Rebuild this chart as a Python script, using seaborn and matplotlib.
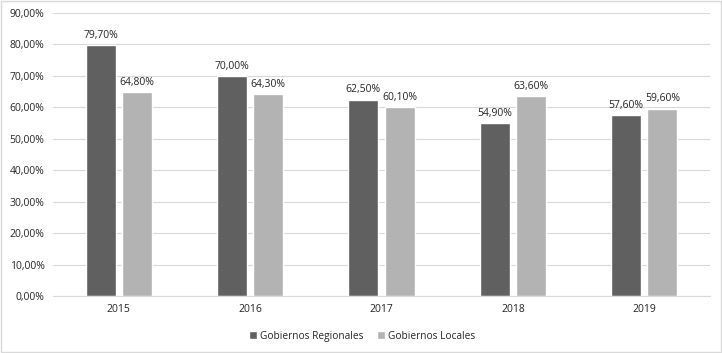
import pandas as pd
import matplotlib.pyplot as plt
import seaborn as sns
from matplotlib.patches import Rectangle

# data
years = ['2015', '2016', '2017', '2018', '2019']
regionales = [79.7, 70.0, 62.5, 54.9, 57.6]
locales = [64.8, 64.3, 60.1, 63.6, 59.6]

df = pd.DataFrame({
    'year': years * 2,
    'value': regionales + locales,
    'serie': ['Gobiernos Regionales'] * 5 + ['Gobiernos Locales'] * 5,
})

sns.set_style('white')
plt.rcParams['font.family'] = ['Open Sans', 'DejaVu Sans']

fig = plt.figure(figsize=(7.22, 3.53), dpi=100)
ax = fig.add_axes([0.0734, 0.1615, 0.91, 0.8015])

sns.barplot(data=df, x='year', y='value', hue='serie',
            palette=['#606060', '#b3b3b3'], width=0.55, gap=0.17,
            saturation=1, ax=ax, legend=True)

for cont in ax.containers:
    labels = [f'{v:.2f}%'.replace('.', ',') for v in cont.datavalues]
    ax.bar_label(cont, labels=labels, padding=3, fontsize=7.5, color='#262626')

ax.set_ylim(0, 90)
ax.set_yticks(range(0, 91, 10))
ax.set_yticklabels([f'{t:.2f}%'.replace('.', ',') for t in range(0, 91, 10)])
ax.yaxis.grid(True, color='#d9d9d9', linewidth=0.8)
ax.set_axisbelow(True)
ax.tick_params(axis='both', labelsize=7.5, colors='#262626', length=0, pad=6)
ax.set_xlabel('')
ax.set_ylabel('')
for s in ['top', 'right', 'left']:
    ax.spines[s].set_visible(False)
ax.spines['bottom'].set_color('#d9d9d9')

ax.legend(loc='upper center', bbox_to_anchor=(0.47, -0.09), ncol=2, frameon=False,
          fontsize=7.3, handlelength=0.8, handleheight=0.8, columnspacing=1.3,
          handletextpad=0.3)

fig.patches.append(Rectangle((0.001, 0.002), 0.997, 0.995, transform=fig.transFigure,
                             fill=False, edgecolor='#d9d9d9', linewidth=1))

fig.savefig('out.png', dpi=100)
